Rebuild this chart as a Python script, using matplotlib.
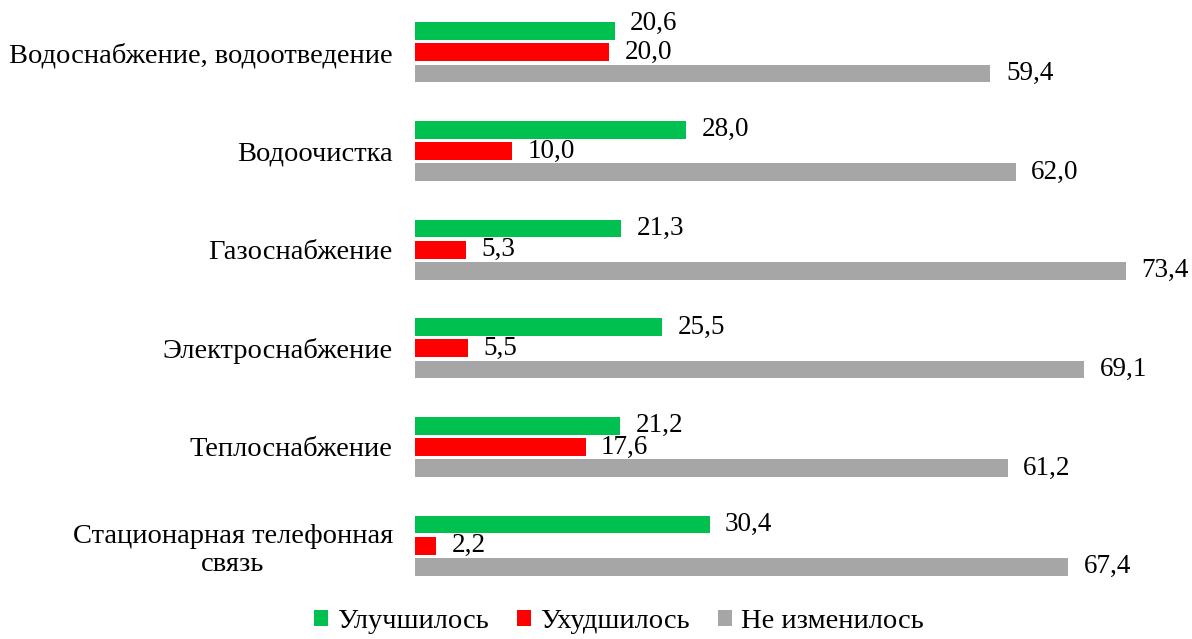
import numpy as np
import matplotlib.pyplot as plt

plt.rcParams['font.family'] = ['Liberation Serif', 'DejaVu Serif']

categories = ['Водоснабжение, водоотведение', 'Водоочистка', 'Газоснабжение',
              'Электроснабжение', 'Теплоснабжение', 'Стационарная телефонная\nсвязь']
improved = [20.6, 28.0, 21.3, 25.5, 21.2, 30.4]
worsened = [20.0, 10.0, 5.3, 5.5, 17.6, 2.2]
unchanged = [59.4, 62.0, 73.4, 69.1, 61.2, 67.4]
series_names = ['Улучшилось', 'Ухудшилось', 'Не изменилось']
colors = ['#00C050', '#FF0000', '#A6A6A6']

fig = plt.figure(figsize=(11.92, 6.39), dpi=100)
ax = fig.add_axes([415 / 1192, 44 / 639, 775 / 1192, 592 / 639])

y = np.arange(len(categories))
pitch = 0.215
h = 0.18
for i, (vals, name, c) in enumerate(zip([improved, worsened, unchanged], series_names, colors)):
    pos = y + (i - 1) * pitch
    ax.barh(pos, vals, height=h, color=c, label=name)
    for j, (p, v) in enumerate(zip(pos, vals)):
        dy = 0
        # lift the green label when it would collide with the red one
        if i == 0 and abs(improved[j] - worsened[j]) < 3:
            dy = -0.08
        ax.text(v + 1.6, p + dy, f'{v:.1f}'.replace('.', ','), va='center', ha='left', fontsize=19.5)

ax.set_xlim(0, 80)
ax.set_ylim(len(categories) - 0.5, -0.5)
ax.set_yticks(y)
ax.set_yticklabels(categories, fontsize=20.5, multialignment='center')
ax.tick_params(axis='y', length=0, pad=16)
ax.set_xticks([])
for s in ax.spines.values():
    s.set_visible(False)

fig.legend(loc='lower center', bbox_to_anchor=(0.519, -0.033), ncol=3, frameon=False, fontsize=20.5,
           handlelength=0.5, handleheight=0.5, handletextpad=0.3, columnspacing=1.0)

fig.savefig('out.png', dpi=100)
